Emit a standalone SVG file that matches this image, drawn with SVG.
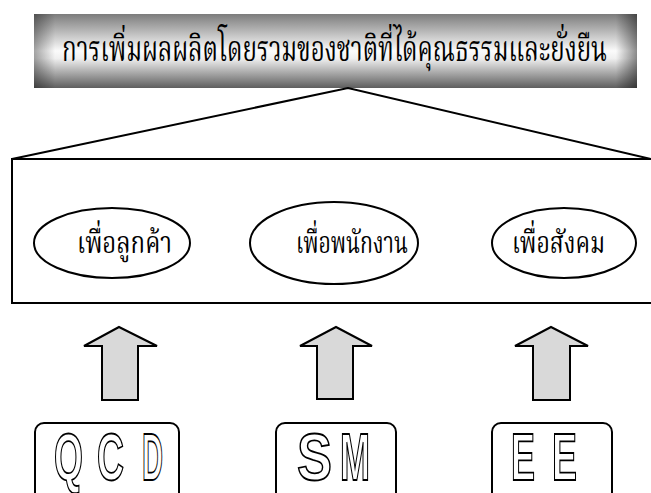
<svg xmlns="http://www.w3.org/2000/svg" width="651" height="493" viewBox="0 0 651 493">
  <defs>
    <linearGradient id="gv" x1="0" y1="0" x2="0" y2="1">
      <stop offset="0" stop-color="#7c7c7c"/>
      <stop offset="0.5" stop-color="#fbfbfb"/>
      <stop offset="0.6" stop-color="#f0f0f0"/>
      <stop offset="1" stop-color="#5e5e5e"/>
    </linearGradient>
    <linearGradient id="gh" x1="0" y1="0" x2="1" y2="0">
      <stop offset="0" stop-color="#000" stop-opacity="0.35"/>
      <stop offset="0.035" stop-color="#000" stop-opacity="0"/>
      <stop offset="0.965" stop-color="#000" stop-opacity="0"/>
      <stop offset="1" stop-color="#000" stop-opacity="0.45"/>
    </linearGradient>
    <style>
      .th { font-family: "Noto Serif Thai", "Noto Sans Thai", "Norasi", "Loma", "Garuda", "Noto Sans", sans-serif; fill: #000; }
      .ln { fill: none; stroke: #000; stroke-width: 2; }
      .arrow { fill: #d9d9d9; stroke: #000; stroke-width: 2; stroke-linejoin: miter; }
      .box { fill: #fff; stroke: #000; stroke-width: 2; }
      .let { font-family: "Liberation Sans", Arial, sans-serif; font-weight: bold; font-size: 66px; fill: #fff; stroke: #000; stroke-width: 1.8; }
    </style>
  </defs>
  <rect width="651" height="493" fill="#fff"/>

  <g id="banner">
    <rect x="34" y="14" width="603" height="74" fill="url(#gv)"/>
    <rect x="34" y="14" width="603" height="74" fill="url(#gh)"/>
    <text class="th" x="62" y="61" font-size="35" textLength="545" lengthAdjust="spacingAndGlyphs">การเพิ่มผลผลิตโดยรวมของชาติที่ได้คุณธรรมและยั่งยืน</text>
  </g>

  <g id="connectors">
    <polyline class="ln" points="12,159 348,88 651,159"/>
  </g>

  <g id="frame">
    <rect class="ln" x="12" y="159" width="646" height="144"/>
  </g>

  <g id="node-customer">
    <ellipse class="ln" cx="112" cy="243" rx="78" ry="35"/>
    <text class="th" x="77" y="253" font-size="31" textLength="95" lengthAdjust="spacingAndGlyphs">เพื่อลูกค้า</text>
  </g>
  <g id="node-employee">
    <ellipse class="ln" cx="334" cy="243" rx="84" ry="41"/>
    <text class="th" x="296" y="253" font-size="31" textLength="112" lengthAdjust="spacingAndGlyphs">เพื่อพนักงาน</text>
  </g>
  <g id="node-society">
    <ellipse class="ln" cx="564" cy="243" rx="72" ry="35"/>
    <text class="th" x="512" y="253" font-size="31" textLength="93" lengthAdjust="spacingAndGlyphs">เพื่อสังคม</text>
  </g>

  <g id="arrows">
    <polygon class="arrow" points="119,327 157,346 138,346 138,400 102,400 102,346 84,346"/>
    <polygon class="arrow" points="336,327 372,346 353,346 353,399 317,399 317,346 300,346"/>
    <polygon class="arrow" points="551,327 588,346 570,346 570,400 533,400 533,346 515,346"/>
  </g>

  <g id="node-qcd">
    <rect class="box" x="35" y="423" width="144" height="80" rx="9"/>
    <text class="let" x="54" y="480" textLength="29" lengthAdjust="spacingAndGlyphs">Q</text>
    <text class="let" x="97" y="480" textLength="27" lengthAdjust="spacingAndGlyphs">C</text>
    <text class="let" x="142" y="480" textLength="21" lengthAdjust="spacingAndGlyphs">D</text>
  </g>
  <g id="node-sm">
    <rect class="box" x="276" y="423" width="120" height="80" rx="9"/>
    <text class="let" x="297" y="480" textLength="35" lengthAdjust="spacingAndGlyphs">S</text>
    <text class="let" x="340" y="480" textLength="30" lengthAdjust="spacingAndGlyphs">M</text>
  </g>
  <g id="node-ee">
    <rect class="box" x="492" y="423" width="120" height="80" rx="9"/>
    <text class="let" x="511" y="480" textLength="24" lengthAdjust="spacingAndGlyphs">E</text>
    <text class="let" x="552" y="480" textLength="25" lengthAdjust="spacingAndGlyphs">E</text>
  </g>
</svg>
